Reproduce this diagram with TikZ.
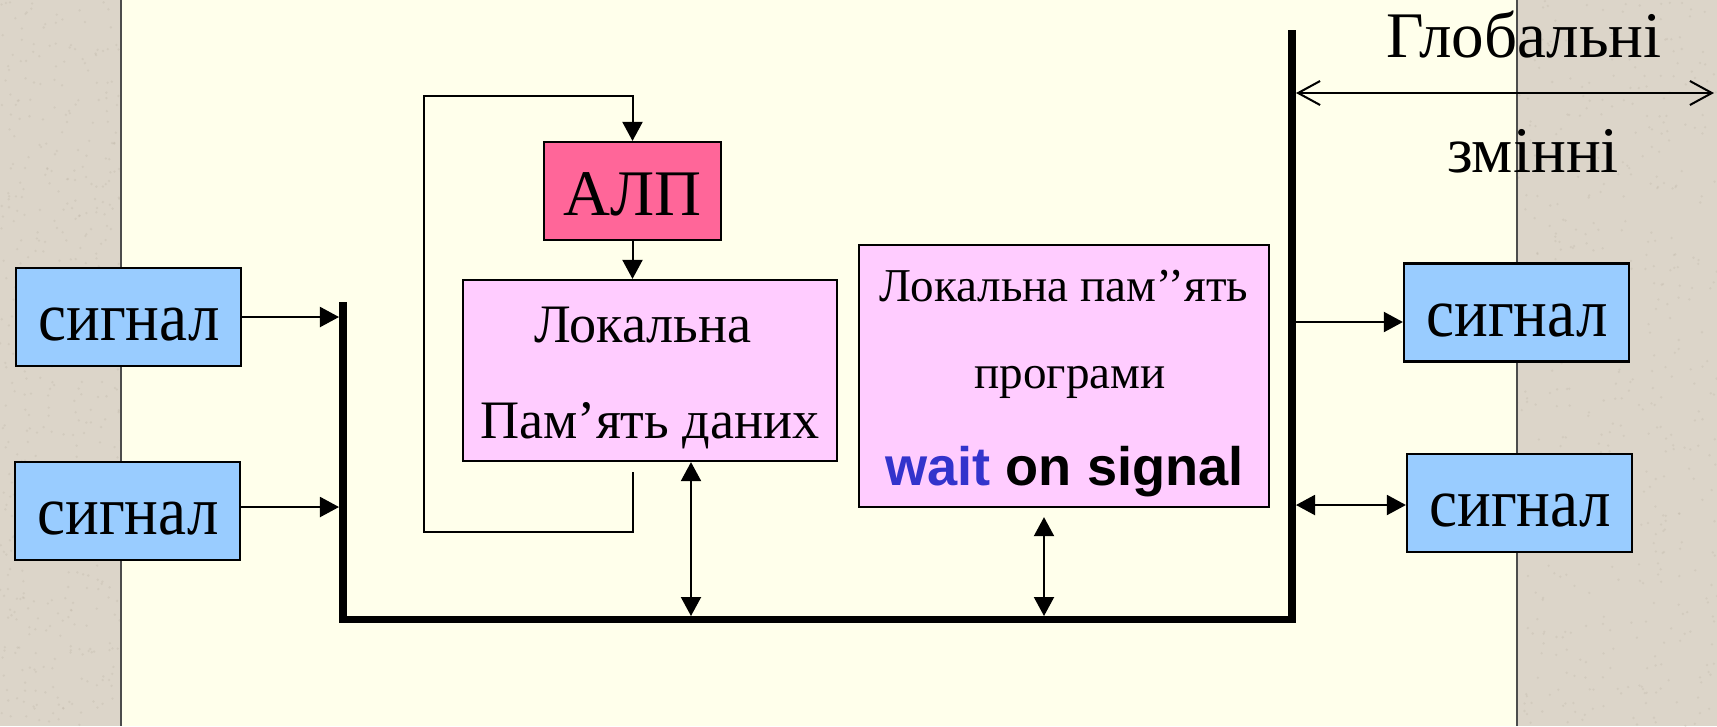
\documentclass[tikz,border=0pt]{standalone}
\usepackage{fontspec}
\setmainfont{Liberation Serif}
\newfontfamily\sansfam{Liberation Sans}
\newfontfamily\sigfam{Liberation Serif}[FakeStretch=0.91]
\usetikzlibrary{arrows.meta}
\definecolor{panelbeige}{HTML}{DCD5C9}
\definecolor{panelspeck}{HTML}{B8AE9F}
\definecolor{slidecream}{HTML}{FFFFEB}
\definecolor{sigblue}{HTML}{99CCFF}
\definecolor{alupink}{HTML}{FF6699}
\definecolor{memlilac}{HTML}{FFCCFF}
\definecolor{waitblue}{HTML}{3333CC}
\newcommand{\sigfont}{\sigfam\fontsize{19.7pt}{23pt}\selectfont}
\newcommand{\bigfont}{\fontsize{18.5pt}{22pt}\selectfont}
\newcommand{\memfont}{\fontsize{15.4pt}{18pt}\selectfont}
\newcommand{\progfont}{\fontsize{13.4pt}{16pt}\selectfont}
\newcommand{\waitfont}{\sansfam\bfseries\fontsize{15.4pt}{18pt}\selectfont}
\begin{document}
\begin{tikzpicture}[x=0.01cm, y=-0.01cm,
  box/.style={draw, line width=0.6pt, inner sep=0pt},
  sigbox/.style={box, fill=sigblue, minimum width=2.25cm, minimum height=0.98cm},
  alubox/.style={box, fill=alupink, minimum width=1.77cm, minimum height=0.98cm},
  membox/.style={box, fill=memlilac},
  txt/.style={anchor=base, inner sep=0pt},
  wire/.style={line width=0.57pt},
  arr/.style={wire, -{Triangle[length=0.19cm, width=0.2cm]}},
  dbl/.style={wire, {Triangle[length=0.19cm, width=0.2cm]}-{Triangle[length=0.19cm, width=0.2cm]}},
  globarr/.style={wire, {Straight Barb[length=0.22cm, width=0.24cm]}-{Straight Barb[length=0.22cm, width=0.24cm]}},
  bus/.style={line width=2.1pt, line join=miter},
]
\useasboundingbox (0,0) rectangle (1717,726);

% background: textured side panels and the cream working area
\fill[panelbeige] (0,0) rectangle (121,726);
\fill[panelbeige] (1517,0) rectangle (1717,726);
\pgfmathsetseed{42}
\foreach \i in {1,...,500} {
  \fill[panelspeck, opacity=0.25] (rnd*121, rnd*726) circle (1.3);
  \fill[panelspeck, opacity=0.25] (1517+rnd*200, rnd*726) circle (1.3);
}
\fill[slidecream] (121,0) rectangle (1517,726);
\draw[line width=0.5pt, black!70] (121,0) -- (121,726);
\draw[line width=0.5pt, black!70] (1517,0) -- (1517,726);

% shared bus
\coordinate (busTL) at (343,302);
\coordinate (busBL) at (343,619.5);
\coordinate (busBR) at (1292,619.5);
\coordinate (busTR) at (1292,30);
\draw[bus] (busTL) -- (busBL) -- (busBR) -- (busTR);

% input signals on the left
\node[sigbox] (lsig1) at (128.5,317) {};
\node[txt, font=\sigfont] (lsig1t) at (129,340) {сигнал};
\node[sigbox] (lsig2) at (127.5,511) {};
\node[txt, font=\sigfont] (lsig2t) at (128,534) {сигнал};
\coordinate (busIn1) at (339,317);
\coordinate (busIn2) at (339,507);
\draw[arr] (lsig1.east) -- (busIn1);
\draw[arr] (lsig2.east |- busIn2) -- (busIn2);

% ALU and local data memory with its feedback loop
\node[alubox] (alu) at (632.5,191) {};
\node[txt, font=\bigfont] (alut) at (632.5,215) {АЛП};
\node[membox, minimum width=3.74cm, minimum height=1.81cm] (mem) at (650,370.5) {};
\node[txt, font=\memfont] (memt1) at (643,342) {Локальна};
\node[txt, font=\memfont] (memt2) at (650,438) {Пам’ять даних};
\draw[arr] (alu.south) -- (alu.south |- mem.north);
\coordinate (loopA) at (633,472);
\coordinate (loopC) at (424,532);
\coordinate (loopB) at (424,96);
\draw[arr] (loopA) |- (loopC) -- (loopB) -| (alu.north);
\coordinate (busM) at (691,616);
\draw[dbl] (mem.south -| busM) -- (busM);

% local program memory
\node[membox, minimum width=4.1cm, minimum height=2.62cm] (prog) at (1064,376) {};
\node[txt, font=\progfont] (progt1) at (1064,301) {Локальна пам’’ять};
\node[txt, font=\progfont] (progt2) at (1070,388) {програми};
\node[txt, font=\waitfont] (progt3) at (1064.5,485) {\textcolor{waitblue}{wait} on signal};
\coordinate (busP) at (1044,616);
\draw[dbl] ([yshift=-0.09cm]prog.south -| busP) -- (busP);

% output signals on the right
\node[sigbox] (rsig1) at (1516.5,312.5) {};
\node[txt, font=\sigfont] (rsig1t) at (1517,336) {сигнал};
\node[sigbox] (rsig2) at (1519.5,503) {};
\node[txt, font=\sigfont] (rsig2t) at (1520,526) {сигнал};
\coordinate (busOut1) at (1296,322);
\coordinate (busOut2) at (1296,505);
\draw[arr] (busOut1) -- (busOut1 -| rsig1.west);
\draw[dbl] (busOut2) -- (busOut2 -| rsig2.west);

% global variables
\coordinate (globL) at (1296,93);
\coordinate (globR) at (1714,93);
\draw[globarr] (globL) -- (globR);
\node[txt, font=\bigfont] (globt1) at (1524,57) {Глобальні};
\node[txt, font=\bigfont] (globt2) at (1533,172) {змінні};
\end{tikzpicture}
\end{document}
